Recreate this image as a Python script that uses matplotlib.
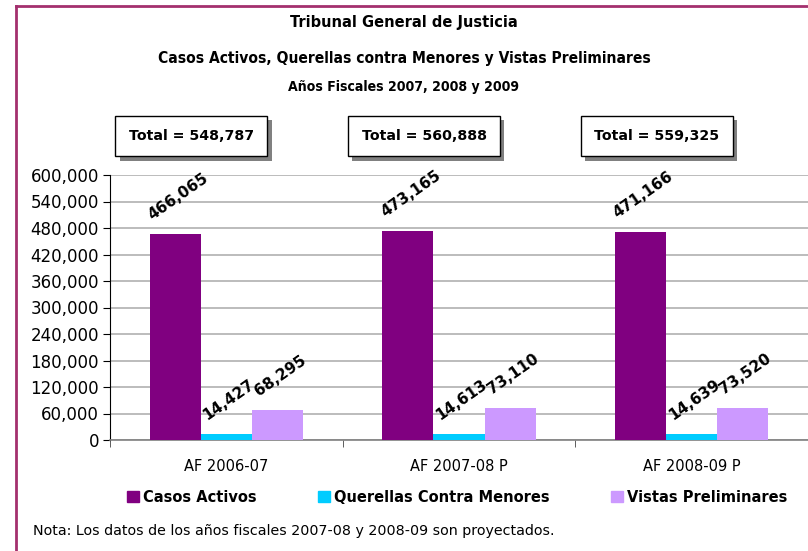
import matplotlib
matplotlib.use('Agg')
import matplotlib.pyplot as plt
import matplotlib.patheffects as pe
from matplotlib import font_manager
from matplotlib.patches import Patch
from matplotlib.lines import Line2D
from matplotlib.ticker import FuncFormatter, MultipleLocator
import numpy as np

# data
years = ['AF 2006-07', 'AF 2007-08 P', 'AF 2008-09 P']
series = ['Casos Activos', 'Querellas Contra Menores', 'Vistas Preliminares']
casos = [466065, 473165, 471166]
querellas = [14427, 14613, 14639]
vistas = [68295, 73110, 73520]
colors = ['#800080', '#00CCFF', '#CC99FF']

plt.rcParams['font.family'] = ['DejaVu Sans']

# condensed face for the titles if one is there
title_kw = dict(family=['DejaVu Sans'], fontweight='bold')
title_sizes = (10.5, 9.5, 8.5)
for fam, stretch in [('Liberation Sans Narrow', 'normal'), ('DejaVu Sans', 'condensed')]:
    try:
        f = font_manager.findfont(font_manager.FontProperties(family=fam, stretch=stretch, weight='bold'),
                                  fallback_to_default=False)
    except Exception:
        continue
    if 'Narrow' in f or 'Condensed' in f:
        title_kw = dict(family=[fam, 'DejaVu Sans'], fontweight='bold', fontstretch=stretch)
        title_sizes = (11.7, 11.2, 10.1)
        break

fig = plt.figure(figsize=(8.08, 5.51), dpi=100)
ax = fig.add_axes([110 / 808, 1 - 440 / 551, 698 / 808, 265 / 551])

x = np.arange(len(years))
w = 0.22
for i, (vals, c) in enumerate(zip([casos, querellas, vistas], colors)):
    bars = ax.bar(x + (i - 1) * w, vals, width=w, color=c, zorder=3)
    for b, v in zip(bars, vals):
        ax.annotate(f'{v:,}', (b.get_x() + b.get_width() / 2, v),
                    xytext=(2, 8), textcoords='offset points',
                    ha='center', va='bottom', rotation=35,
                    fontsize=11, fontweight='bold', zorder=4)

ax.set_xlim(-0.5, 2.5)
ax.set_ylim(0, 600000)
ax.yaxis.set_major_locator(MultipleLocator(60000))
ax.yaxis.set_major_formatter(FuncFormatter(lambda v, p: f'{int(v):,}'))
ax.grid(axis='y', color='#bcbcbc', linewidth=1.4, zorder=0)
ax.set_xticks(x)
ax.set_xticklabels(years)
ax.set_xticks([-0.5, 0.5, 1.5, 2.5], minor=True)
ax.tick_params(axis='x', which='major', length=0, pad=14, labelsize=10.5)
ax.tick_params(axis='x', which='minor', length=5, direction='out', color='#444444')
ax.tick_params(axis='y', length=5, direction='out', labelsize=12, pad=3)
for s in ['top', 'right']:
    ax.spines[s].set_visible(False)
ax.spines['left'].set_color('black')
ax.spines['bottom'].set_color('#808080')
ax.spines['bottom'].set_linewidth(1.2)

# total boxes
totals = [a + b + c for a, b, c in zip(casos, querellas, vistas)]
trans = matplotlib.transforms.blended_transform_factory(ax.transData, fig.transFigure)
for i, t in enumerate(totals):
    txt = fig.text(i - 0.15, 1 - 136 / 551, f'Total = {t:,}', transform=trans,
                   ha='center', va='center', fontsize=10.2, fontweight='bold',
                   bbox=dict(boxstyle='square,pad=0.95', facecolor='white',
                             edgecolor='black', linewidth=1))
    txt.get_bbox_patch().set_path_effects([
        pe.SimplePatchShadow(offset=(3, -3), shadow_rgbFace='#808080', alpha=1.0),
        pe.Normal()])

# titles
fig.text(0.5, 1 - 22 / 551, 'Tribunal General de Justicia', ha='center', va='center',
         fontsize=title_sizes[0], **title_kw)
fig.text(0.5, 1 - 58 / 551, 'Casos Activos, Querellas contra Menores y Vistas Preliminares',
         ha='center', va='center', fontsize=title_sizes[1], **title_kw)
fig.text(0.5, 1 - 87 / 551, 'Años Fiscales 2007, 2008 y 2009', ha='center', va='center',
         fontsize=title_sizes[2], **title_kw)

# legend
handles = [Patch(facecolor=c, edgecolor=c) for c in colors]
fig.legend(handles, series, loc='center', bbox_to_anchor=(0.566, 1 - 497 / 551),
           ncol=3, frameon=False, prop={'weight': 'bold', 'size': 10.5},
           handlelength=0.8, handleheight=0.8, handletextpad=0.3, columnspacing=4.2)

fig.text(33 / 808, 1 - 531 / 551,
         'Nota: Los datos de los años fiscales 2007-08 y 2008-09 son proyectados.',
         ha='left', va='center', fontsize=10.3)

# frame border (top and left visible)
bc = '#a3306e'
fig.add_artist(Line2D([16 / 808, 1], [1 - 6 / 551, 1 - 6 / 551], color=bc, lw=2))
fig.add_artist(Line2D([16 / 808, 16 / 808], [0, 1 - 6 / 551], color=bc, lw=2))

fig.savefig('out.png', dpi=100)
